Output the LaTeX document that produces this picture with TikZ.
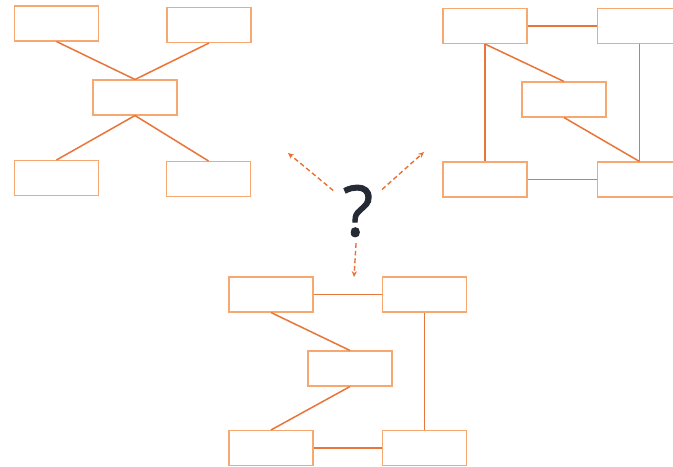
\documentclass[tikz,border=0pt]{standalone}
\usepackage{fontspec}
\usepackage{tikz}
\usetikzlibrary{arrows.meta, shapes.geometric}
\newfontfamily\qfont[FakeBold=1.2]{Open Sans}
\definecolor{boxorange}{RGB}{247, 168, 112}
\definecolor{lineorange}{RGB}{232, 118, 58}
\definecolor{arroworange}{RGB}{236, 112, 52}
\definecolor{qgray}{RGB}{38, 42, 52}

\begin{document}
\begin{tikzpicture}[
    x=0.03cm, y=-0.03cm, % pixel grid of the reference
    blank/.style={rectangle, draw=boxorange, line width=0.9pt, fill=white, minimum width=2.52cm, minimum height=1.05cm, inner sep=0pt},
    link/.style={draw=lineorange, line width=1.3pt},
    hint/.style={draw=arroworange, line width=1.2pt, dash pattern=on 4pt off 2.5pt, -{Stealth[length=5pt, width=4.5pt]}}
]
    \useasboundingbox (0, 0) rectangle (673, 466);

    % X layout (top left)
    \node (xtl) [blank] at (56.5, 23.5) {};
    \node (xtr) [blank] at (209, 25) {};
    \node (xmid) [blank] at (135, 97.5) {};
    \node (xbl) [blank] at (56.5, 178) {};
    \node (xbr) [blank] at (208.5, 179) {};

    \draw [link] (xtl.south) -- (xmid.north);
    \draw [link] (xtr.south) -- (xmid.north);
    \draw [link] (xmid.south) -- (xbl.north);
    \draw [link] (xmid.south) -- (xbr.north);

    % Ring layout (top right)
    \node (rtl) [blank] at (485, 26) {};
    \node (rtr) [blank] at (639.5, 26) {};
    \node (rmid) [blank] at (564, 99.5) {};
    \node (rbl) [blank] at (485, 179.5) {};
    \node (rbr) [blank] at (639.5, 179.5) {};

    \draw [link] (rtl.east) -- (rtr.west);
    \draw [link] (rtl.south) -- (rbl.north);
    \draw [link] (rtl.south) -- (rmid.north);
    \draw [link] (rmid.south) -- (rbr.north);
    \draw [link] (rtr.south) -- (rbr.north);
    \draw [link] (rbl.east) -- (rbr.west);

    % Z layout (bottom)
    \node (ztl) [blank] at (271, 294.5) {};
    \node (ztr) [blank] at (424.5, 294.5) {};
    \node (zmid) [blank] at (350, 368.5) {};
    \node (zbl) [blank] at (271, 448) {};
    \node (zbr) [blank] at (424.5, 448) {};

    \draw [link] (ztl.east) -- (ztr.west);
    \draw [link] (ztl.south) -- (zmid.north);
    \draw [link] (zmid.south) -- (zbl.north);
    \draw [link] (ztr.south) -- (zbr.north);
    \draw [link] (zbl.east) -- (zbr.west);

    % Question mark and dashed hints
    \node (quest) [circle, minimum size=1.92cm, inner sep=0pt, text=qgray, font=\qfont\fontsize{60}{60}\selectfont] at (358, 211) {?};
    \coordinate (toxlay) at (288, 153);
    \coordinate (toring) at (424, 152);
    \coordinate (tozlay) at (354, 277);

    \draw [hint] (quest) -- (toxlay);
    \draw [hint] (quest) -- (toring);
    \draw [hint] (quest) -- (tozlay);

\end{tikzpicture}
\end{document}
